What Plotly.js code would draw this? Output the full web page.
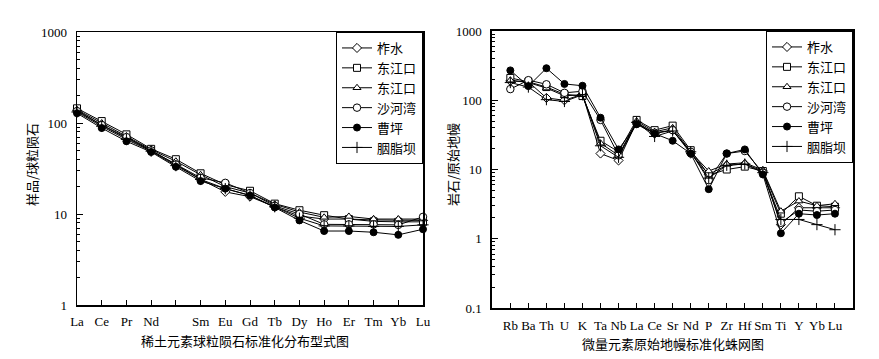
<!DOCTYPE html>
<html>
<head>
<meta charset="utf-8">
<script src="https://cdn.plot.ly/plotly-3.0.1.min.js"></script>
<style>html,body{margin:0;padding:0;background:#fff;}#chart{width:879px;height:359px;}</style>
</head>
<body>
<div id="chart"></div>
<script>
// ---- REE chondrite-normalized data (left panel) ----
const reeElements = ["La","Ce","Pr","Nd"," ","Sm","Eu","Gd","Tb","Dy","Ho","Er","Tm","Yb","Lu"];
const reeZuoshui    = [138, 95, 68, 50, 35, 24, 17.5, 15.5, 12, 9.5, 8.8, 8.8, 8.6, 8.5, 8.5];
const reeDongjiang1 = [145, 105, 75, 52, 40, 28, 21, 18, 13, 11, 9.7, 8.8, 8.3, 8.2, 8.2];
const reeDongjiang2 = [140, 100, 72, 51, 38, 27, 20, 17, 12.8, 10.5, 9.2, 9.4, 8.8, 8.8, 8.8];
const reeShahewan   = [135, 95, 70, 50, 35, 25, 22, 17, 12.3, 10, 7.7, 7.7, 7.7, 7.6, 9.3];
const reeCaoping    = [128, 88, 63, 48, 33, 23, 19, 16, 11.8, 8.5, 6.5, 6.5, 6.3, 5.9, 6.8];
const reeYanzhiba   = [132, 92, 66, 49, 34, 24, 19, 16, 12, 9, 7.4, 7.4, 7.3, 7.3, 7.6];

// ---- Trace element primitive-mantle-normalized data (right panel) ----
const traceElements = ["Rb","Ba","Th","U","K","Ta","Nb","La","Ce","Sr","Nd","P","Zr","Hf","Sm","Ti","Y","Yb","Lu"];
const trZuoshui    = [190, 185, 108, 100, 122, 17, 13.5, 48, 33, 37, 17, 8.5, 11.5, 12, 9.5, 1.6, 2.8, 2.8, 2.8];
const trDongjiang1 = [210, 185, 155, 122, 115, 26, 18, 52, 37, 43, 19, 8.3, 10, 11, 9.5, 2.3, 4.1, 3.0, 2.9];
const trDongjiang2 = [195, 180, 150, 116, 120, 24, 16, 50, 35, 40, 18, 9.5, 12, 12.5, 9.8, 2.5, 3.5, 3.0, 3.2];
const trShahewan   = [145, 195, 170, 128, 135, 52, 16, 46, 34, 37, 18, 7, 17, 18.5, 9, 1.7, 2.6, 2.5, 2.6];
const trCaoping    = [270, 160, 290, 172, 162, 56, 19.5, 45, 33, 26, 17, 5.2, 17, 19.5, 8.5, 1.2, 2.3, 2.2, 2.3];
const trYanzhiba   = [180, 155, 102, 96, 120, 22, 15, 48, 30, 36, 18, 7.5, 11.5, 12, 9, 1.9, 1.9, 1.6, 1.35];

const seriesNames = ["柞水","东江口","东江口","沙河湾","曹坪","胭脂坝"];

const markerStyles = [
  {symbol:"diamond", size:7, color:"white", line:{color:"black", width:1}},
  {symbol:"square", size:7, color:"white", line:{color:"black", width:1}},
  {symbol:"triangle-up", size:7, color:"white", line:{color:"black", width:1}},
  {symbol:"circle", size:7.5, color:"white", line:{color:"black", width:1}},
  {symbol:"circle", size:7, color:"black", line:{color:"black", width:1}},
  {symbol:"cross-thin", size:8, color:"black", line:{color:"black", width:1}}
];

const reeSeries = [reeZuoshui, reeDongjiang1, reeDongjiang2, reeShahewan, reeCaoping, reeYanzhiba];
const trSeries = [trZuoshui, trDongjiang1, trDongjiang2, trShahewan, trCaoping, trYanzhiba];

const traces = [];
reeSeries.forEach((ys, i) => {
  traces.push({
    type:"scatter", mode:"lines+markers", x: reeElements, y: ys,
    name: seriesNames[i], xaxis:"x", yaxis:"y", legend:"legend",
    line:{color:"black", width:1}, marker: markerStyles[i], cliponaxis:false
  });
});
trSeries.forEach((ys, i) => {
  traces.push({
    type:"scatter", mode:"lines+markers", x: traceElements, y: ys,
    name: seriesNames[i], xaxis:"x2", yaxis:"y2", legend:"legend2",
    line:{color:"black", width:1}, marker: markerStyles[i], cliponaxis:false
  });
});

const W = 879, H = 359;
const tickFont = {family:"Liberation Serif, Times New Roman, serif", size:13, color:"black"};
const cjkFont = {family:"Noto Sans CJK SC, sans-serif", size:13, color:"black"};

function minorVals(lo, hi){
  const v=[];
  for(let e=lo;e<hi;e++){for(let k=2;k<=9;k++){v.push(k*Math.pow(10,e));}}
  return v;
}

const legendCommon = {
  bgcolor:"white", bordercolor:"black", borderwidth:1,
  font: cjkFont, xanchor:"right", yanchor:"top", itemwidth:30,
  tracegroupgap:0
};

const layout = {
  width:W, height:H,
  margin:{l:0,r:0,t:0,b:0},
  paper_bgcolor:"white", plot_bgcolor:"white",
  font: tickFont,
  xaxis:{
    domain:[77/W, 423/W], type:"category", categoryorder:"array", categoryarray: reeElements,
    range:[0,14], showline:true, mirror:true, linecolor:"black", linewidth:1.5,
    ticks:"inside", ticklen:5, tickcolor:"black", showgrid:false, zeroline:false,
    tickfont: tickFont, ticklabelstandoff:4, anchor:"y"
  },
  yaxis:{
    domain:[1-305/H, 1-32/H], type:"log", range:[0,3],
    showline:true, mirror:true, linecolor:"black", linewidth:1.5,
    ticks:"inside", ticklen:6, tickcolor:"black", showgrid:false, zeroline:false,
    tickvals:[1,10,100,1000], ticktext:["1","10","100","1000"],
    tickfont: tickFont, ticklabelstandoff:6, anchor:"x",
    minor:{tickvals: minorVals(0,3), ticks:"inside", ticklen:3, tickcolor:"black", showgrid:false}
  },
  xaxis2:{
    domain:[492.3/W, 853/W], type:"category", categoryorder:"array", categoryarray: traceElements,
    range:[-1,19], showline:true, mirror:true, linecolor:"black", linewidth:2,
    ticks:"inside", ticklen:5, tickcolor:"black", showgrid:false, zeroline:false,
    tickfont: tickFont, ticklabelstandoff:4, anchor:"y2"
  },
  yaxis2:{
    domain:[1-308/H, 1-31/H], type:"log", range:[-1,3],
    showline:true, mirror:true, linecolor:"black", linewidth:2,
    ticks:"inside", ticklen:6, tickcolor:"black", showgrid:false, zeroline:false,
    tickvals:[0.1,1,10,100,1000], ticktext:["0.1","1","10","100","1000"],
    tickfont: tickFont, ticklabelstandoff:6, anchor:"x2",
    minor:{tickvals: minorVals(-1,3), ticks:"inside", ticklen:3, tickcolor:"black", showgrid:false}
  },
  legend: Object.assign({}, legendCommon, {x:423/W, y:1-32/H}),
  legend2: Object.assign({}, legendCommon, {x:853/W, y:1-31/H}),
  annotations:[
    {text:"稀土元素球粒陨石标准化分布型式图", xref:"paper", yref:"paper", x:245/W, y:1-340/H,
     showarrow:false, font:cjkFont, xanchor:"center", yanchor:"middle"},
    {text:"微量元素原始地幔标准化蛛网图", xref:"paper", yref:"paper", x:673/W, y:1-343/H,
     showarrow:false, font:cjkFont, xanchor:"center", yanchor:"middle"},
    {text:"样品/球粒陨石", xref:"paper", yref:"paper", x:32/W, y:1-165/H, textangle:-90,
     showarrow:false, font:cjkFont, xanchor:"center", yanchor:"middle"},
    {text:"岩石/原始地幔", xref:"paper", yref:"paper", x:453/W, y:1-165/H, textangle:-90,
     showarrow:false, font:cjkFont, xanchor:"center", yanchor:"middle"}
  ]
};

Plotly.newPlot("chart", traces, layout, {displayModeBar:false, staticPlot:true});
</script>
</body>
</html>
